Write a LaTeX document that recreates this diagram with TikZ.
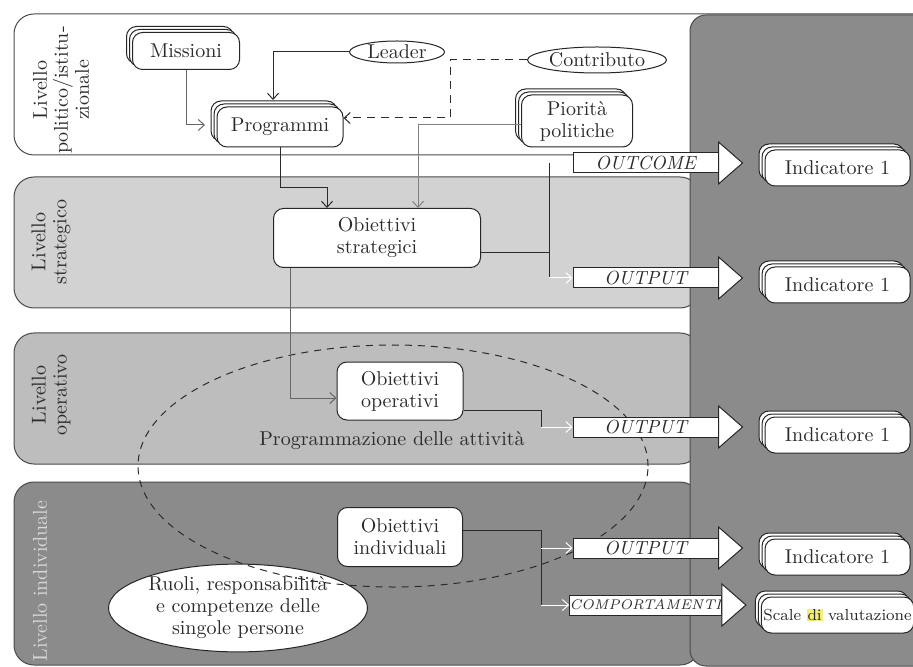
\documentclass[tikz,border=0pt]{standalone}
\usepackage{xcolor}
\usetikzlibrary{shapes.geometric,shadows,arrows.meta,calc}
\definecolor{bandB}{HTML}{D2D2D2}
\definecolor{bandC}{HTML}{BDBDBD}
\definecolor{bandD}{HTML}{8B8B8B}
\definecolor{edge}{HTML}{4A4A4A}
\definecolor{txt}{HTML}{2B2B2B}
\definecolor{hl}{HTML}{F2EE7A}
\setlength{\fboxsep}{0.4pt}
\begin{document}
\begin{tikzpicture}[x=0.5pt,y=-0.5pt,
  band/.style={draw=edge, line width=0.5pt, rounded corners=10pt},
  lvl/.style={rotate=90, align=center, text=txt, font=\fontsize{10}{10.5}\selectfont},
  box/.style={draw=black!85, fill=white, rounded corners=5pt, align=center, inner sep=1pt, text=txt, line width=0.5pt, font=\fontsize{10}{11}\selectfont},
  stack/.style={box, double copy shadow={shadow xshift=-1.5pt, shadow yshift=1.5pt, draw=black!85, fill=white, line width=0.5pt}},
  oval/.style={ellipse, draw=black!85, fill=white, inner sep=0pt, text=txt, line width=0.5pt, font=\fontsize{10}{11}\selectfont},
  tag/.style={draw=black!85, fill=white, minimum width=72.5pt, minimum height=10pt, inner sep=0pt, font=\itshape\fontsize{9.5}{10}\selectfont, text=txt, line width=0.5pt},
  head/.style={draw=black!85, fill=white, line width=0.5pt},
  ind/.style={stack, minimum width=72.5pt, minimum height=18pt},
  line/.style={line width=0.5pt, draw=#1},
  line/.default=txt,
  conn/.style={line width=0.5pt, draw=#1, -{Straight Barb[length=3pt,width=5.5pt]}},
  conn/.default=txt
]
\useasboundingbox (0,0) rectangle (913,667);
% bands
\path[band, fill=white] (14,14) rectangle (940,155);
\path[band, fill=bandB] (14,177) rectangle (700,308);
\path[band, fill=bandC] (14,333) rectangle (700,464);
\path[band, fill=bandD] (14,482) rectangle (700,665);
\path[draw=edge, line width=0.5pt, fill=bandD, rounded corners=8pt] (690,15) rectangle (940,666);
% level labels
\node[lvl] (l1) at (61,90) {Livello\\politico/istitu-\\zionale};
\node[lvl] (l2) at (51,242) {Livello\\strategico};
\node[lvl] (l3) at (51,395) {Livello\\operativo};
\node[lvl, text=white!85!black] (l4) at (40,581) {Livello individuale};
% nodes
\node[stack, minimum width=53.5pt, minimum height=18.5pt] (mis) at (186,51) {Missioni};
\node[stack, minimum width=63pt, minimum height=20pt] (prog) at (280,127) {Programmi};
\node[stack, minimum width=55.5pt, minimum height=26pt] (prio) at (577,121) {Piorità\\politiche};
\node[oval, minimum width=47.5pt, minimum height=11pt] (lead) at (397,52) {Leader};
\node[oval, minimum width=69.5pt, minimum height=13pt] (contr) at (597,60) {Contributo};
\node[box, minimum width=103.5pt, minimum height=29.5pt] (ostrat) at (377,238) {Obiettivi\\strategici};
\node[box, minimum width=63pt, minimum height=29pt] (oper) at (400,391) {Obiettivi\\operativi};
\node[box, minimum width=62.5pt, minimum height=29.5pt] (indiv) at (400,537) {Obiettivi\\individuali};
\node[oval, minimum width=129.5pt, minimum height=38.5pt, align=center] (ruoli) at (238,608) {Ruoli, responsabilità\\e competenze delle\\singole persone};
\draw[line=txt, dash pattern=on 3.5pt off 3pt] (393,466) ellipse [x radius=127.5pt, y radius=60.5pt];
\node[text=txt, font=\fontsize{10}{11}\selectfont] (prg) at (392,441) {Programmazione delle attività};
% tags
\node[tag] (t1) at (645.5,163) {OUTCOME};
\node[tag] (t2) at (645.5,278) {OUTPUT};
\node[tag] (t3) at (645.5,427) {OUTPUT};
\node[tag] (t4) at (645.5,548) {OUTPUT};
\node[tag, font=\itshape\scriptsize] (t5) at (645.5,605) {COMPORTAMENTI};
\foreach \t in {t1,t2,t3,t4,t5}{
  \draw[head] ([yshift=10.5pt]\t.east) -- ([xshift=12pt]\t.east) -- ([yshift=-10.5pt]\t.east) -- cycle;
}
% indicators
\node[ind] (i1) at (837.5,168) {Indicatore 1};
\node[ind] (i2) at (837.5,285) {Indicatore 1};
\node[ind] (i3) at (837.5,435) {Indicatore 1};
\node[ind] (i4) at (837.5,557) {Indicatore 1};
\node[ind, font=\footnotesize] (i5) at (837.5,615) {Scale \colorbox{hl}{di} valutazione};
% connectors
\coordinate (c1) at (205,125);
\draw[conn={black!60}] (mis.south) |- (c1);
\coordinate (c2) at (273,100);
\draw[conn] (lead.west) -| (c2);
\coordinate (c3) at (450,118);
\draw[conn, dash pattern=on 4pt off 3pt] (contr.west) -| (c3) -- (c3 -| prog.east);
\coordinate (c4) at (327,188);
\draw[conn] (prog.south) |- (c4) -- (c4 |- ostrat.north);
\coordinate (c5) at (418,125);
\draw[conn={black!50}] (c5 -| prio.west) -- (c5) -- (c5 |- ostrat.north);
\coordinate (b0) at (549,253);
\coordinate (b1) at (549,163);
\coordinate (b2) at (549,278);
\draw[line] (b0 -| ostrat.east) -- (b0);
\draw[line] (b1) -- (b2);
\draw[conn=white] (b1) -- (t1.west);
\draw[conn=white] (b2) -- (t2.west);
\coordinate (c6) at (290,398);
\draw[conn={black!60}] (c6 |- ostrat.south) -- (c6) -- (c6 -| oper.west);
\coordinate (c7) at (541,410);
\coordinate (c8) at (541,427);
\draw[line] (c7 -| oper.east) -- (c7) -- (c8);
\draw[conn=white] (c8) -- (t3.west);
\coordinate (c9) at (541,530);
\coordinate (c10) at (541,548);
\coordinate (c11) at (541,605);
\draw[line] (c9 -| indiv.east) -- (c9) -- (c11);
\draw[conn=white] (c10) -- (t4.west);
\draw[conn=white] (c11) -- (t5.west);
\end{tikzpicture}
\end{document}
